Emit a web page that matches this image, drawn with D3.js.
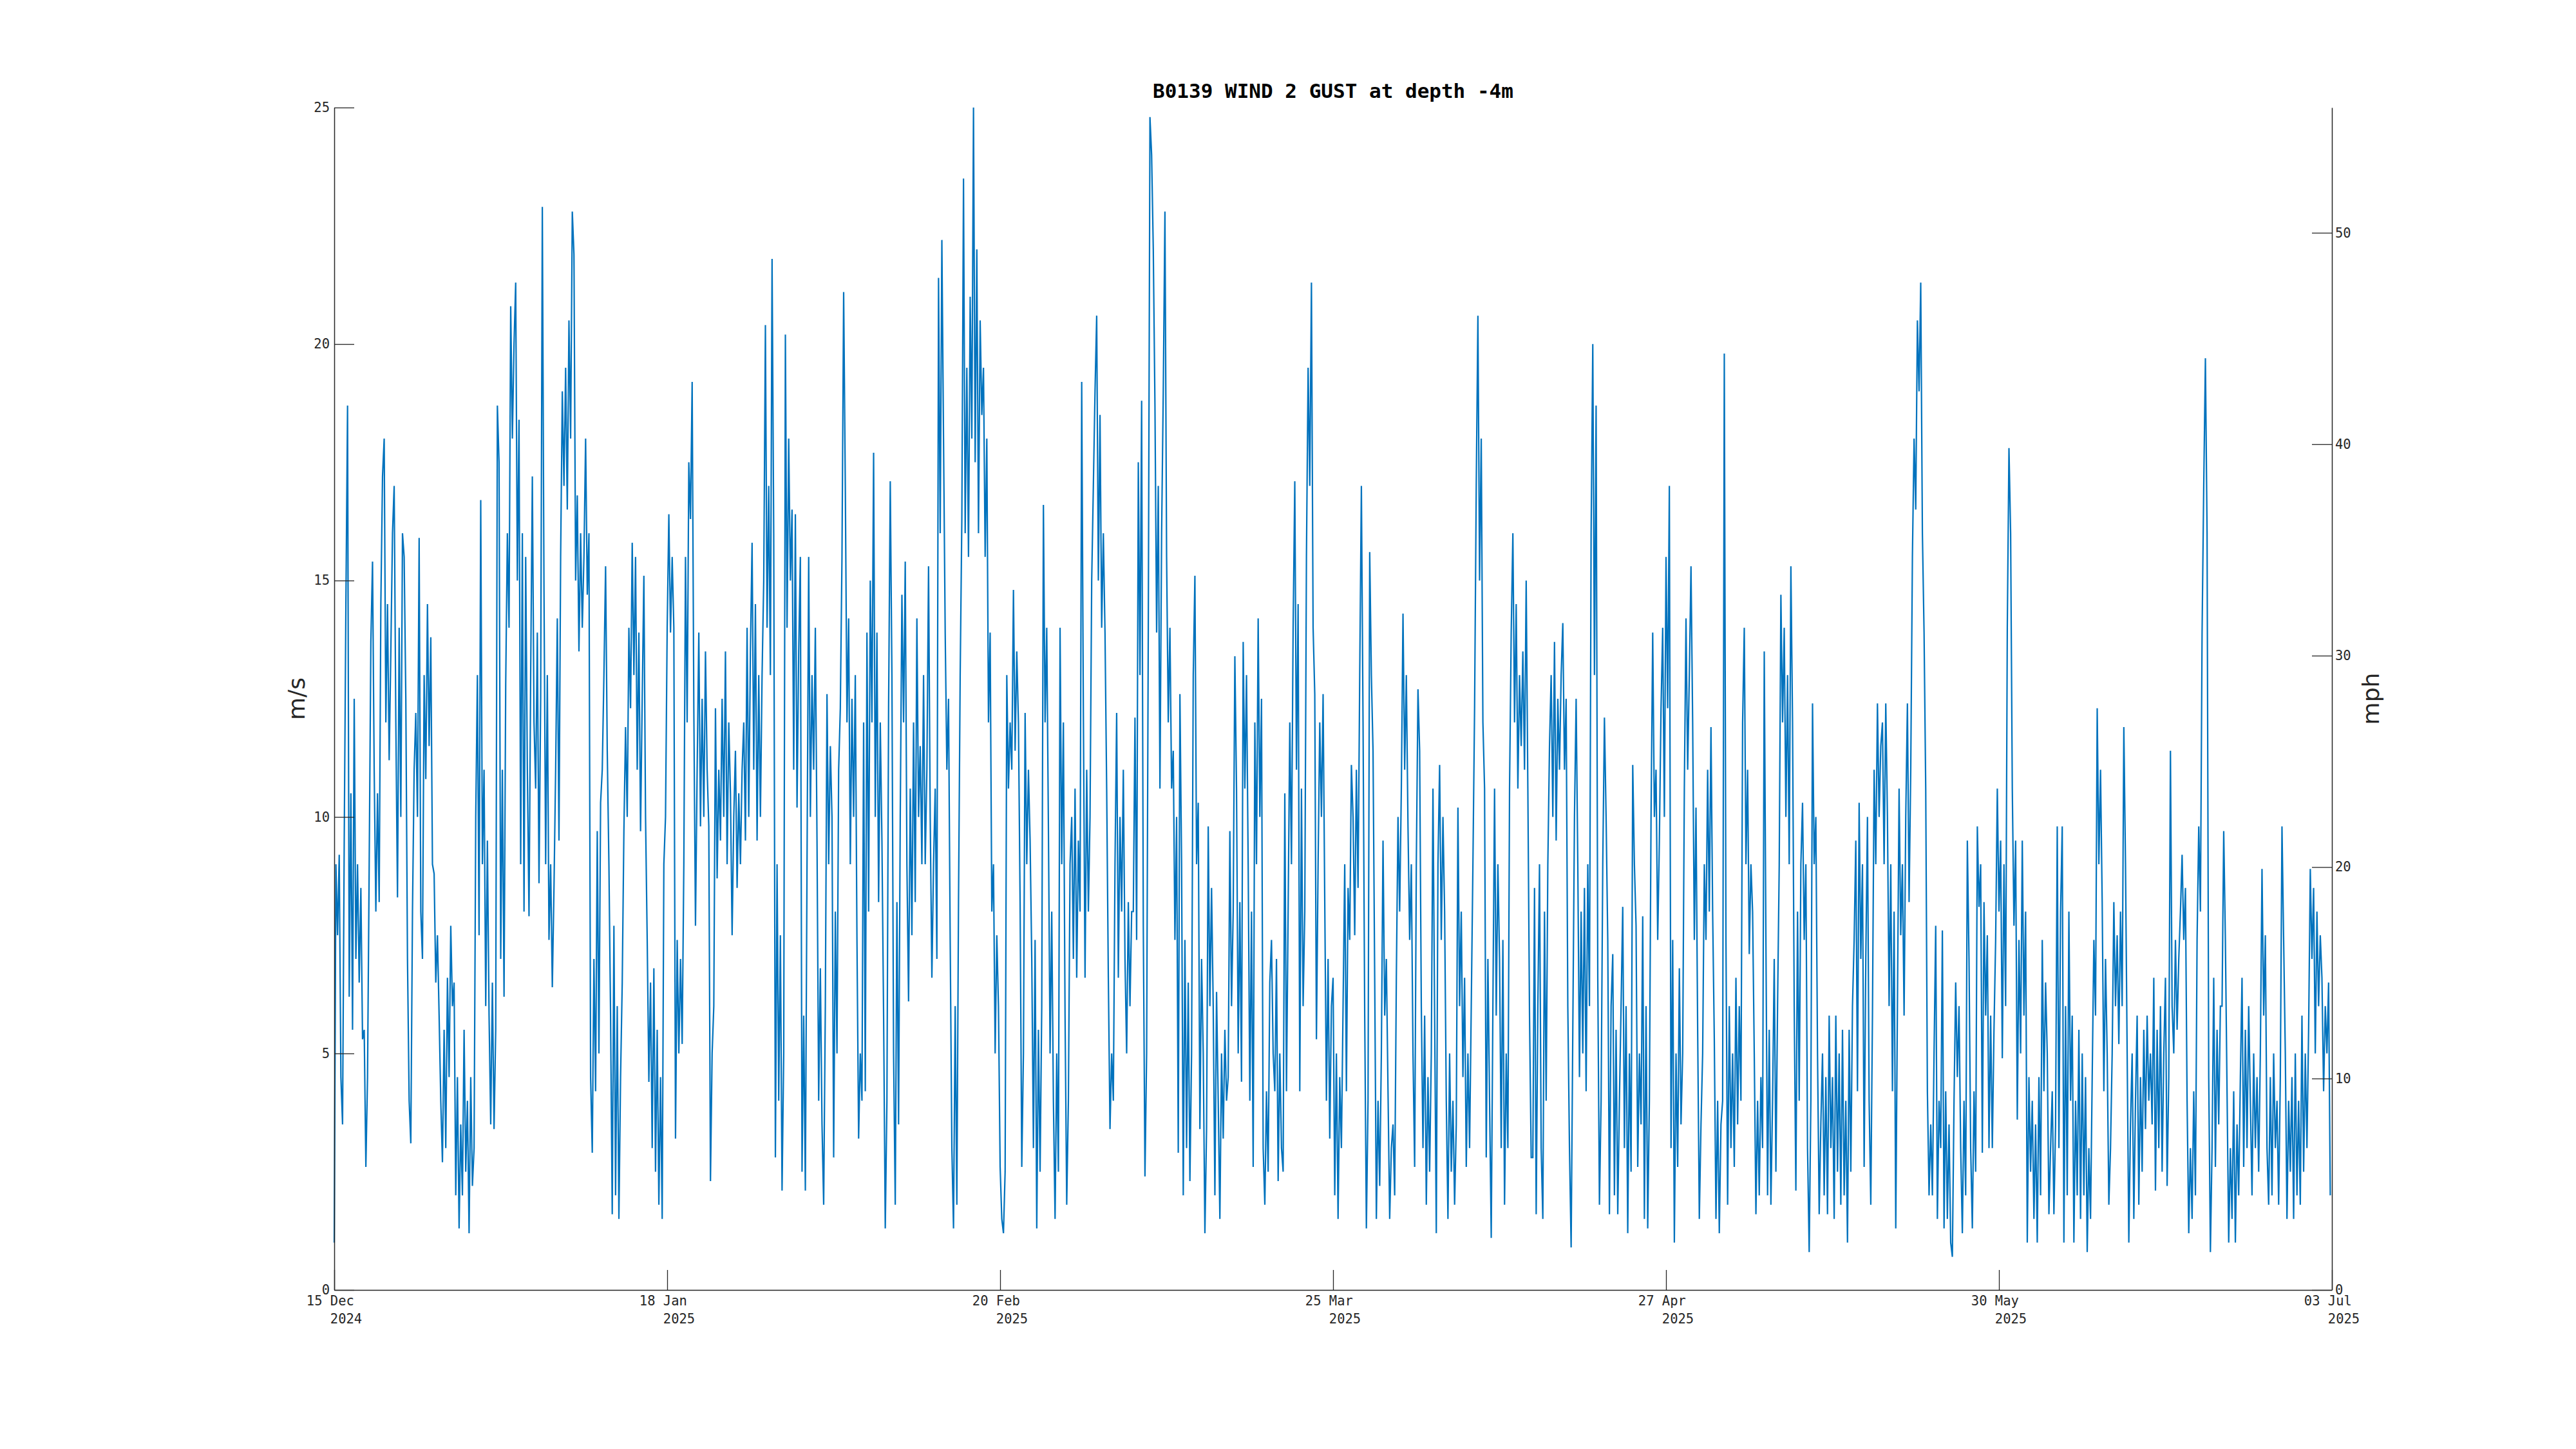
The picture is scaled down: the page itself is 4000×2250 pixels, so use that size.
<!DOCTYPE html>
<html><head><meta charset="utf-8">
<script src="https://cdn.jsdelivr.net/npm/d3@7"></script>
<style>body{margin:0;background:#fff} svg{display:block}</style>
</head><body>
<svg id="chart" width="4000" height="2250"></svg>
<script>
const titleText = "B0139 WIND 2 GUST at depth -4m";
const leftLabel = "m/s";
const rightLabel = "mph";
const startDate = "2024-12-15T21:36:00Z";
const endDate = "2025-07-03T02:24:00Z";
const yTicksMs = [0, 5, 10, 15, 20, 25];
const yTicksMph = [0, 10, 20, 30, 40, 50];
const xTickCount = 7;
// gust speed in m/s, 6 samples per day across the record
const gustMs = [
1.0,9.0,7.5,9.2,4.5,3.5,
9.5,14.5,18.7,6.2,10.5,5.5,
12.5,7,9,6.5,8.5,5.3,
5.5,2.6,4.5,9,13.7,15.4,
11,8,10.5,8.2,14.5,17.2,
18,12,14.5,11.2,13.5,16,
17,12,8.3,14,10,16,
15.5,12.5,7,4,3.1,8,
11,12.2,10,15.9,8,7,
13,10.8,14.5,11.5,13.8,9,
8.8,6.5,7.5,5.8,4,2.7,
5.5,3,6.6,4.5,7.7,6,
6.5,2,4.5,1.3,3.5,2,
5.5,2.5,4,1.2,4.5,2.2,
3,10,13,7.5,16.7,9,
11,6,9.5,5.8,3.5,6.5,
3.4,5.5,18.7,17.5,7,11,
6.2,12.8,16,14,20.8,18,
20,21.3,15,18.4,9,16,
8,15.5,11,7.9,13,17.2,
12,10.6,13.9,8.6,12.5,22.9,
14.8,9,13,7.4,9,6.4,
8.5,11,14.2,9.5,15.5,19,
17,19.5,16.5,20.5,18,22.8,
21.9,15,16.8,13.5,16,14,
15.5,18,14.7,16,4.5,2.9,
7,4.2,9.7,5,10.3,11,
13,15.3,11.4,9,5.8,1.6,
7.7,2,6,1.5,4.5,6.5,
9.7,11.9,10,14,12.3,15.8,
13,15.5,11,13.9,9.7,12.5,
15.1,10,7.4,4.4,6.5,3,
6.8,2.5,5.5,1.8,4.5,1.5,
9,10,14,16.4,13.9,15.5,
14,3.2,7.4,5,7,5.2,
9,15.5,12,17.5,16.3,19.2,
12.3,7.7,11,13.9,9.8,12.5,
10,13.5,11,9.8,2.3,5,
6,12.3,8.7,11,9.5,12.5,
10,13.5,9,12,10.5,7.5,
10,11.4,8.5,10.5,9,11,
12,9.5,14,10,13.5,15.8,
11,14.5,9.5,13,10,13,
15,20.4,14,17,13,21.8,
16,2.8,9,4,7.5,2.1,
5,20.2,14,18,15,16.5,
11,16.4,10.2,13.5,15.5,2.5,
5.8,2.1,9,15.5,10,13,
11,14,9.5,4,6.8,3.5,
1.8,6,12.6,9,11.5,10,
2.8,8,5,11,12.3,15.5,
21.1,17,12,14.2,9,12.5,
10,13,7.4,3.2,5,4,
12,4.2,13.9,8,15,12,
17.7,10,13.9,8.2,12,9.5,
5.8,1.3,4,12.3,17.1,13,
5,1.8,8.2,3.5,10,14.7,
12,15.4,9,6.1,10.6,7.5,
12,8.2,14.2,10,11.5,9,
13,9,11,15.3,10,6.6,
9,10.6,7,21.4,16,22.2,
18,13.9,11,12.5,7.4,3,
1.3,6,1.8,8.2,13,16.3,
23.5,16,19.5,15.5,21,18,
25,17.5,22,16,20.5,18.5,
19.5,15.5,18,12,13.9,8,
9,5,7.5,6,2.6,1.5,
1.2,2.5,13,10.6,12,11,
14.8,11.4,13.5,12,8.2,2.6,
5,12.2,9,11,9.5,7,
3,7.4,1.3,5.5,2.5,6,
16.6,12,14,9.8,5,8,
4,1.5,5,2.5,14,9,
12,5.8,1.8,4,9,10,
7,10.6,6.6,9.5,8,19.2,
12.2,6.6,11,8,10,15,
17,19,20.6,15,18.5,14,
16,13.9,10.6,6.6,3.4,5,
4,9,12.2,6.6,10,8,
11,7,5,8.2,6,8,
8,12.1,7.4,17.5,13,18.8,
7.7,2.4,5,14,24.8,24,
22,18.7,13.9,17,10.6,16,
19,22.8,15.5,12,14,10.6,
11.4,7.4,10,2.9,12.6,9,
2,7.4,3,6.5,2.3,5,
13,15.1,9,10.3,3.4,7,
5,1.2,3.4,9.8,6,8.5,
6,2,6.3,4,1.5,5,
3.2,5.5,4,4.5,9.7,6,
8,13.4,10.6,5,8.2,4.4,
13.7,10.6,13,9,4,8,
2.6,12,9,14.2,10,12.5,
3,1.8,4.2,2.5,6.5,7.4,
5,4.2,7,2.3,5,3,
2.5,10.5,4.2,8,12,9,
14,17.1,11,14.5,4.2,10.6,
6,8,15.5,19.5,17,21.3,
14,12.6,5.3,9,12,10,
12.6,8.2,4,7,3.2,6,
6.6,2,5,1.5,4.5,3,
6,9,4.2,8.5,7.4,11.1,
10,7.5,11,8.5,13,17,
12,5.8,1.3,4,15.6,13,
11.4,6.6,1.5,4,2.2,5,
9.5,5.8,7,4.2,1.5,3,
3.5,2,6.6,10,8,10.6,
14.3,11,13,9.8,7.4,9,
5,2.6,9,12.7,11.4,6,
3,5.8,1.8,4.5,2.5,5,
10.6,5.8,1.2,9,11.1,7.4,
10,8,4,1.5,5,2.5,
4,1.8,3.5,10.2,6,8,
4.5,6.6,2.6,5,3,6,
9,12.3,17,20.6,15,18,
12,10.6,2.8,7,4,1.1,
6,10.6,5.8,9,7,3,
7.4,1.8,5,3,10.6,13.9,
16,12,14.5,10.6,13,11.5,
13.5,11,15,10.6,5.8,2.8,
2.8,8.5,1.6,6,9,3,
1.5,8,4,9,11.5,13,
10,13.7,9.5,12.5,11,13,
14.1,11,12.5,6,3,0.9,
5.5,10,12.5,9,4.5,8,
5,8.5,4.2,9,6,16,
20,13,18.7,6.6,1.8,4,
9,12.1,10,7.4,1.6,6,
7.1,2,5.5,1.6,4,6,
8.1,3,6,1.2,5,2.5,
11.1,9,7.7,2.6,5,3.5,
7.9,1.5,6,1.3,4,10,
13.9,10,11,7.4,9.5,12.3,
14,10,15.5,12.3,17,3,
7.4,1,5,2.6,6.8,3.5,
5,10.6,14.2,11,13,15.3,
12,7.4,10.2,5.5,1.5,3.5,
5,9,7.4,11,8,11.9,
8,5.3,1.5,4,1.2,3.5,
4,19.8,7.4,1.8,6,3,
5,2.6,6.6,3.5,6,4,
12,14,9,11,7.1,9,
8,5,1.6,4,2,4.5,
3,13.5,7.4,2,5.5,1.8,
4,7,2.5,6,9,14.7,
12,14,10,13,9,15.3,
12,6,2.1,8,4,9,
10.3,7.4,9,3,0.8,4,
12.4,9,10,5,1.6,3.5,
5,2,4.5,1.6,5.8,3,
4.5,1.5,5.8,2.5,5,1.8,
5.5,2,4,1,5.5,2.5,
6,7.4,9.5,4.2,10.3,7,
9,2.6,7,10,4,1.8,
5.8,11,9,12.4,10,11.5,
12,9,12.4,10,6,9,
4.2,8,1.3,6,10.6,7.5,
9,5.8,10,12.4,8.2,11,
15.5,18,16.5,20.5,19,21.3,
16,13.9,10.6,4.2,2,3.5,
2,5,7.7,1.5,4,3,
7.6,1.3,4.2,1.5,3.5,1,
0.7,4,6.5,4.5,6,3,
1.2,4,2,9.5,7,3,
1.3,4.2,2.5,9.8,8.1,9,
2.9,8.2,5.8,7.5,3,5.8,
3,5.5,7.4,10.6,8,9.5,
4.9,9,6,14,17.8,16,
10.6,7.7,9.5,3.6,7.4,5,
9.5,5.8,8,1,4.5,2.5,
4,1.5,3.5,1,4.5,2,
7.4,4.2,6.5,5,1.6,3,
4.2,1.6,3.5,9.8,3,8,
9.8,1,6,2,8,4,
5.8,1,4,2,5.5,1.5,
5,2,4.5,0.8,3,1.5,
4.5,7.4,5.8,12.3,9,11,
8.2,4.2,7,5,1.8,3,
5,8.2,6,7.5,5.2,8,
6,11.9,9,5,1,3.5,
5,1.5,4,5.8,1.8,4.5,
2.5,5.5,3.4,5.8,4,5,
3.5,6.6,2.1,5.5,3,6,
2.5,5,6.6,2.2,4.5,11.4,
6,5,7.4,5.5,7,8,
9.2,7.4,8.5,4,1.2,3,
1.5,4.2,2,7.4,9.8,8,
13.9,17,19.7,16,4.5,0.8,
3,6.6,2.6,5.5,3.5,6,
6,9.7,7.4,4.2,1,3,
1.5,4.2,1,3.5,2,4.5,
6.6,2.6,5.5,3,6,4,
2,5,3,4.5,2.5,5,
8.9,5.8,7.5,3,1.8,4.5,
2,5,3,4,1.8,4.5,
9.8,7.4,5,1.5,4,2.5,
4.5,1.5,5,2,4,1.8,
5.8,2.5,5,3,5.5,8.9,
7,8.5,5,8,6,7.5,
6.6,4.2,6,5,6.5,2
];

const MS_TO_MPH = 2.23694;
const margin = {l: 519, r: 3621, t: 167, b: 2003};
const axisColor = "#262626";
const monoFont = "'DejaVu Sans Mono', monospace";
const tickFontSize = 20.5;

const svg = d3.select("#chart");
const t0 = new Date(startDate), t1 = new Date(endDate);
const x = d3.scaleUtc().domain([t0, t1]).range([margin.l, margin.r]);
const y = d3.scaleLinear().domain([0, 25]).range([margin.b, margin.t]);
const y2 = d3.scaleLinear().domain([0, 25 * MS_TO_MPH]).range([margin.b, margin.t]);

// sample times span the record evenly
const stepMs = (t1 - t0) / gustMs.length;
const times = gustMs.map((v, i) => new Date(t0.getTime() + i * stepMs));

svg.append("path")
  .datum(gustMs)
  .attr("fill", "none")
  .attr("stroke", "#0072BD")
  .attr("stroke-width", 2.2)
  .attr("stroke-linejoin", "miter")
  .attr("d", d3.line().x((d, i) => x(times[i])).y(d => y(d)));

function styleAxis(g) {
  g.select(".domain").attr("stroke", axisColor).attr("stroke-width", 1.5);
  g.selectAll(".tick line").attr("stroke", axisColor).attr("stroke-width", 1.3);
  g.selectAll(".tick text").attr("fill", axisColor)
    .style("font-family", monoFont).style("font-size", tickFontSize + "px");
}

svg.append("g").attr("transform", `translate(${margin.l},0)`)
  .call(d3.axisLeft(y).tickValues(yTicksMs).tickSizeInner(-31).tickSizeOuter(0).tickPadding(7).tickFormat(d3.format("d")))
  .call(styleAxis);

svg.append("g").attr("transform", `translate(${margin.r},0)`)
  .call(d3.axisRight(y2).tickValues(yTicksMph).tickSizeInner(-31).tickSizeOuter(0).tickPadding(5).tickFormat(d3.format("d")))
  .call(styleAxis);

const xTicks = d3.range(xTickCount).map(i => new Date(t0.getTime() + i * (t1 - t0) / (xTickCount - 1)));
svg.append("g").attr("transform", `translate(0,${margin.b})`)
  .call(d3.axisBottom(x).tickValues(xTicks).tickSizeInner(-31).tickSizeOuter(0).tickFormat(""))
  .call(styleAxis);

const fmtDay = d3.utcFormat("%d %b"), fmtYear = d3.utcFormat("%Y");
const cw = 0.602 * tickFontSize;
const xl = svg.append("g").attr("fill", axisColor)
  .style("font-family", monoFont).style("font-size", tickFontSize + "px");
xTicks.forEach(t => {
  const px = x(t);
  xl.append("text").attr("x", px - 3.5 * cw).attr("y", margin.b + 24)
    .attr("text-anchor", "start").text(fmtDay(t));
  xl.append("text").attr("x", px + 3.5 * cw).attr("y", margin.b + 52)
    .attr("text-anchor", "end").text(fmtYear(t));
});

svg.append("text")
  .attr("x", (margin.l + margin.r) / 2).attr("y", 152)
  .attr("text-anchor", "middle")
  .style("font-family", monoFont).style("font-size", "31px").style("font-weight", "bold")
  .attr("fill", "#000")
  .text(titleText);

const midY = (margin.t + margin.b) / 2;
svg.append("text")
  .attr("transform", `translate(460,${midY}) rotate(-90)`)
  .attr("text-anchor", "middle").attr("dominant-baseline", "central")
  .style("font-family", "'DejaVu Sans', sans-serif").style("font-size", "36px")
  .attr("fill", axisColor).text(leftLabel);
svg.append("text")
  .attr("transform", `translate(3681,${midY}) rotate(-90)`)
  .attr("text-anchor", "middle").attr("dominant-baseline", "central")
  .style("font-family", "'DejaVu Sans', sans-serif").style("font-size", "36px")
  .attr("fill", axisColor).text(rightLabel);
</script>
</body></html>
